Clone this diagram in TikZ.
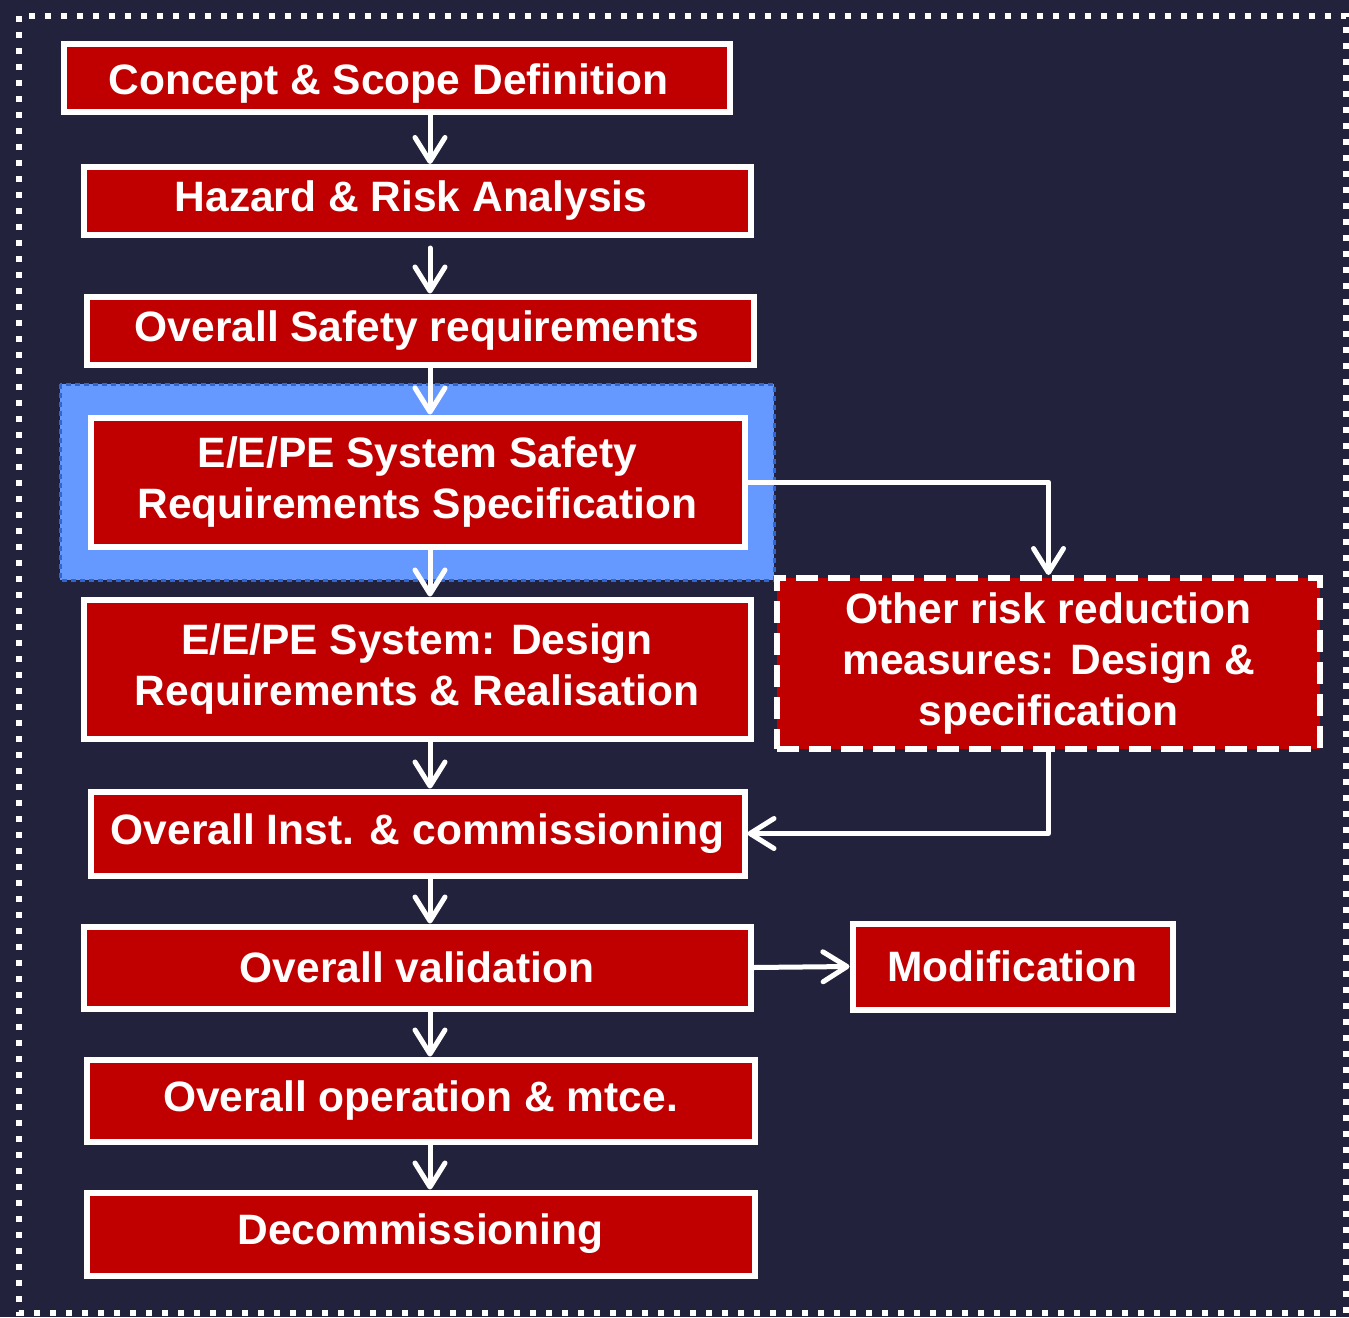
\documentclass[tikz,border=0pt]{standalone}
\usepackage{fontspec}
\setmainfont{Liberation Sans}
\usetikzlibrary{arrows.meta}
\definecolor{bg}{HTML}{22223C}
\definecolor{boxred}{HTML}{C00000}
\definecolor{hlblue}{HTML}{6699FF}
\definecolor{hlborder}{HTML}{3366CC}
\tikzset{
  stage/.style={draw=white, line width=6pt, fill=boxred, text=white, font=\bfseries\fontsize{42.5}{51}\selectfont, align=center, inner sep=0pt, minimum width=#1},
  flow/.style={draw=white, line width=5pt, line cap=round, line join=round, -{Straight Barb[length=24pt,width=30pt,line cap=round,line join=round]}},
}
\begin{document}
\begin{tikzpicture}[x=1pt,y=-1pt]
\fill[bg] (0,0) rectangle (1349,1317);
\useasboundingbox (0,0) rectangle (1349,1317);
\draw[white, line width=6pt, dash pattern=on 6pt off 10pt] (19,16) rectangle (1346,1313);
% highlight
\draw[fill=hlblue, draw=hlborder, line width=3pt, dash pattern=on 5pt off 4pt] (60,384) rectangle (774,580);
% boxes
\node[stage=666pt, minimum height=68pt] (concept) at (396.5,77.5) {\raisebox{-6pt}[\height][\depth]{\hspace*{-16pt}Concept \& Scope Definition}};
\node[stage=667pt, minimum height=68pt] (hazard) at (417,201) {\hspace*{-12pt}Hazard \& Risk Analysis};
\node[stage=667pt, minimum height=68pt] (safety) at (420,330.5) {\hspace*{-6pt}Overall Safety requirements};
\node[stage=654pt, minimum height=129pt] (ssrs) at (417.5,482) {E/E/PE System Safety\\Requirements Specification};
\node[stage=667pt, minimum height=139pt] (design) at (417,669) {E/E/PE System: Design\\Requirements \& Realisation};
\node[stage=543pt, minimum height=171pt, dash pattern=on 22pt off 10pt] (other) at (1048.5,663.5) {Other risk reduction\\measures: Design \&\\specification};
\node[stage=654pt, minimum height=84pt] (inst) at (417.5,833.5) {Overall Inst. \& commissioning};
\node[stage=667pt, minimum height=82pt] (valid) at (417,967.5) {Overall validation};
\node[stage=320pt, minimum height=86pt] (modif) at (1012.5,966.5) {Modification};
\node[stage=668pt, minimum height=82pt] (oper) at (420.5,1100.5) {Overall operation \& mtce.};
\node[stage=668pt, minimum height=83pt] (decom) at (420.5,1234) {Decommissioning};
% arrows
\draw[flow] (concept.south -| 430,0) -- (hazard.north -| 430,0);
\draw[flow] (hazard.south -| 430,0) ++(0,10) -- (safety.north -| 430,0);
\draw[flow] (safety.south -| 430,0) -- (ssrs.north -| 430,0);
\draw[flow] (ssrs.south -| 430,0) -- (design.north -| 430,0);
\draw[flow] (design.south -| 430,0) -- (inst.north -| 430,0);
\draw[flow] (inst.south -| 430,0) -- (valid.north -| 430,0);
\draw[flow] (valid.south -| 430,0) -- (oper.north -| 430,0);
\draw[flow] (oper.south -| 430,0) -- (decom.north -| 430,0);
\draw[flow] (ssrs.east) -- (ssrs.east -| other.north) -- (other.north);
\draw[flow] (other.south) -- (other.south |- inst.east) -- (inst.east);
\draw[flow] (valid.east) -- (modif.west);
\end{tikzpicture}
\end{document}
